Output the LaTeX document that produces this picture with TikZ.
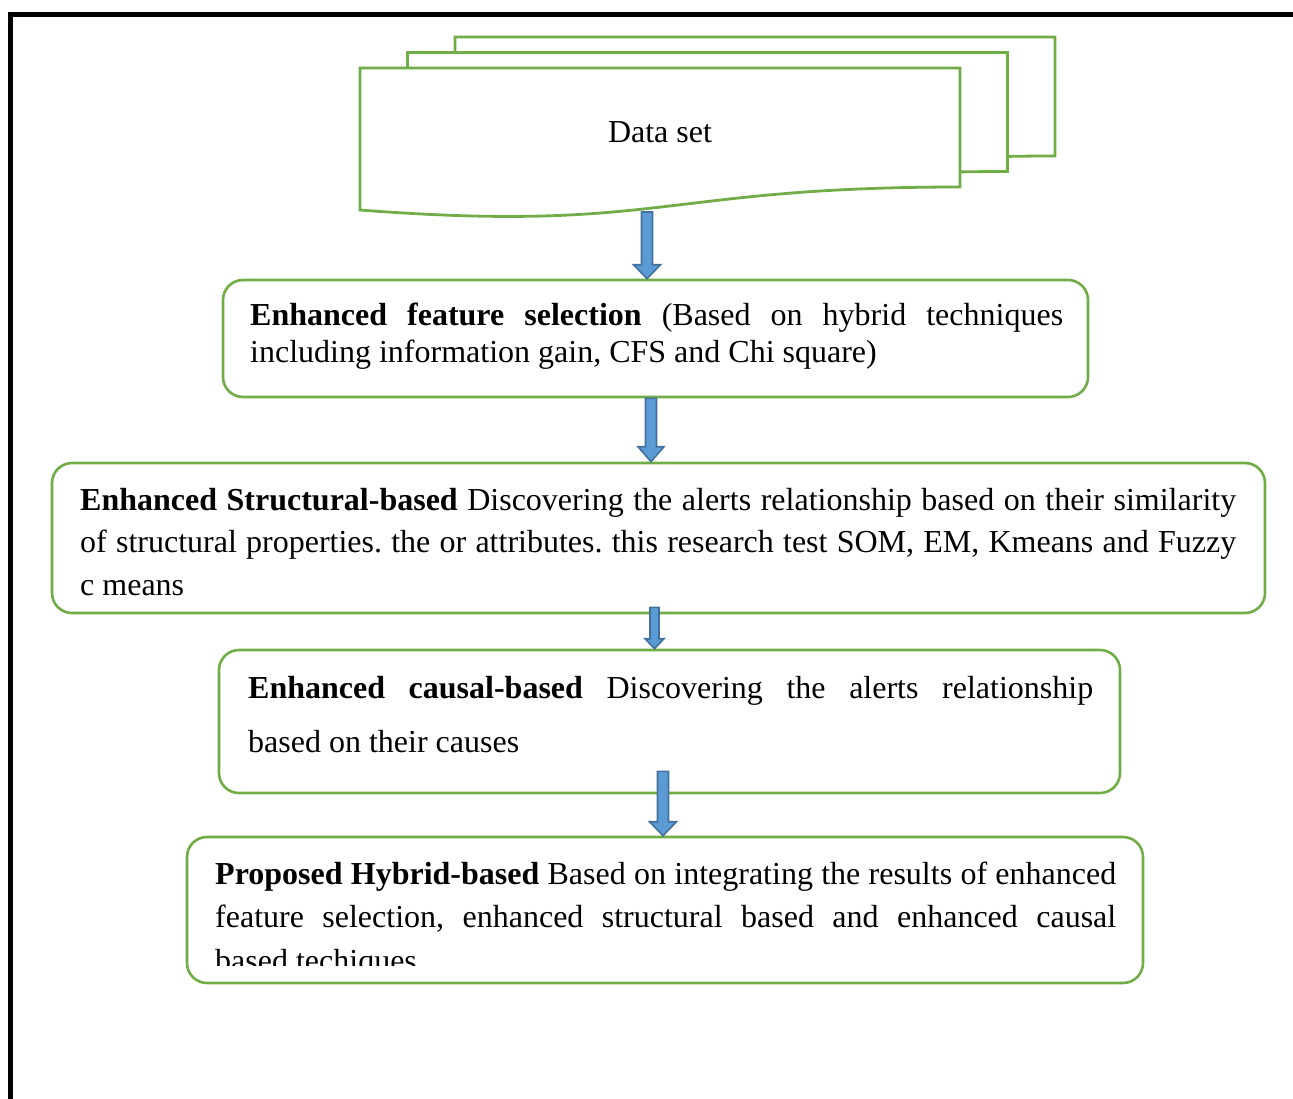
\documentclass[tikz,border=0pt]{standalone}
\usepackage{fontspec}
\setmainfont{Liberation Serif}
\usetikzlibrary{calc}
\setlength{\parindent}{0pt}
\frenchspacing
\definecolor{boxgreen}{HTML}{70AD47}
\definecolor{arrowfill}{HTML}{5B9BD5}
\definecolor{arrowline}{HTML}{41719C}

\tikzset{
  frameline/.style={line width=5pt, line join=miter, draw=black},
  docsheet/.style={draw=boxgreen, fill=white, line width=2.8pt, line join=miter},
  stepbox/.style={draw=boxgreen, fill=white, line width=2.6pt, rounded corners=20pt,
    inner sep=0pt, rectangle},
  bodytext/.style={anchor=base west, inner sep=0pt, align=justify},
  % block arrow: shaft half width, head half width, head length
  blockarrow/.style n args={3}{draw=arrowline, fill=arrowfill, line width=1.6pt,
    line join=miter,
    to path={let \p1=(\tikztostart), \p2=(\tikztotarget) in
      (\x1-#1,\y1) -- (\x1+#1,\y1) -- (\x1+#1,\y2+#3) -- (\x1+#2,\y2+#3)
      -- (\x1,\y2) -- (\x1-#2,\y2+#3) -- (\x1-#1,\y2+#3) -- cycle}},
}

\begin{document}
\begin{tikzpicture}[x=1pt,y=-1pt]
\useasboundingbox (0,0) rectangle (1293,1098);

% page frame
\draw[frameline] (10,1110) -- (10,14.7) -- (1310,14.7);

% stacked document sheets
\foreach \dx/\dy in {95/-31, 47.5/-15.5, 0/0}
  \draw[docsheet, shift={(\dx,\dy)}] (360,68) -- (960,68) -- (960,187)
    .. controls (660,187) and (660,233) .. (360,210) -- cycle;
\node[inner sep=0pt, font=\fontsize{32pt}{38pt}\selectfont] (dstext) at (660,132) {Data set};
\coordinate (dsb) at (647,212);

% process boxes
\node[stepbox, minimum width=865pt, minimum height=117pt] (b1) at (655.5,338.5) {};
\node[stepbox, minimum width=1213pt, minimum height=150pt] (b2) at (658.5,538) {};
\node[stepbox, minimum width=901pt, minimum height=143pt] (b3) at (669.5,721.5) {};
\node[stepbox, minimum width=956pt, minimum height=146pt] (b4) at (665,910) {};

% box texts
\node[bodytext, text width=813pt, font=\fontsize{32pt}{37pt}\selectfont] (t1) at (250,325)
  {\textbf{Enhanced feature selection} (Based on hybrid techniques\linebreak
   including information gain, CFS and Chi square)};
\node[bodytext, text width=1156pt, font=\fontsize{32pt}{42.5pt}\selectfont] (t2) at (80,510)
  {\textbf{Enhanced Structural-based} Discovering the alerts relationship based on their similarity\linebreak
   of structural properties. the or attributes. this research test SOM, EM, Kmeans and Fuzzy\linebreak
   c means};
\node[bodytext, text width=845pt, font=\fontsize{32pt}{54pt}\selectfont] (t3) at (248,698)
  {\textbf{Enhanced causal-based} Discovering the alerts relationship\linebreak
   based on their causes};
\begin{scope}
  \clip (150,845) rectangle (1200,965);
  \node[bodytext, text width=901pt, font=\fontsize{32pt}{43.5pt}\selectfont] (t4) at (215,884)
    {\textbf{Proposed Hybrid-based} Based on integrating the results of enhanced\linebreak
     feature selection, enhanced structural based and enhanced causal\linebreak
     based techiques};
\end{scope}

% flow arrows
\draw[blockarrow={5.5pt}{13.5pt}{14pt}] (dsb) to (b1.north);
\draw[blockarrow={5.5pt}{13pt}{15pt}] ([xshift=-4.5pt]b1.south) to (b2.north);
\draw[blockarrow={4.5pt}{9.5pt}{10pt}] ([shift={(-4,-7)}]b2.south) to (b3.north);
\draw[blockarrow={5.5pt}{13.5pt}{14pt}] ([shift={(-6.5,-23)}]b3.south) to (b4.north);
\end{tikzpicture}
\end{document}
